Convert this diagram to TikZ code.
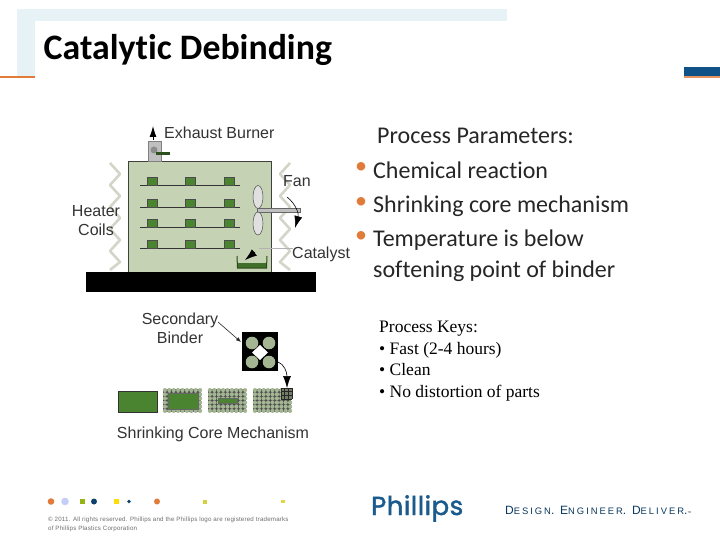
\documentclass[tikz,border=0pt]{standalone}
\usepackage{fontspec}
\setmainfont{Liberation Sans}
\newfontfamily\carl[Ligatures=NoCommon,Contextuals=NoAlternate]{Carlito}
\newfontfamily\lserif{Liberation Serif}
\newfontfamily\tagf[LetterSpace=21]{Liberation Sans}
\newfontfamily\footf[LetterSpace=3]{Liberation Sans}
\newfontfamily\logof[FakeBold=1.6,LetterSpace=2]{Poppins}
\usetikzlibrary{arrows.meta,decorations.pathmorphing}
\definecolor{hdr}{HTML}{E6F2F5}
\definecolor{orangeb}{HTML}{E07B39}
\definecolor{navy}{HTML}{0F5287}
\definecolor{logoc}{HTML}{1B5A8C}
\definecolor{chamber}{HTML}{C6D2B4}
\definecolor{leaf}{HTML}{4B8430}
\definecolor{coil}{HTML}{D2D6C8}
\definecolor{dotg}{HTML}{A3B592}
\definecolor{foot}{HTML}{6E6E6E}
\tikzset{
 lab/.style={anchor=base,font=\fontsize{16}{18}\selectfont,text=black!80,inner sep=0pt},
 rtxt/.style={anchor=base west,font=\carl\fontsize{24}{26}\selectfont,text=black!85,inner sep=0pt},
 bul/.style={anchor=base,font=\carl\fontsize{24}{26}\selectfont,text=orangeb,inner sep=0pt},
 key/.style={anchor=base west,font=\lserif\fontsize{17.5}{19}\selectfont,text=black,inner sep=0pt},
 coilline/.style={draw=coil,line width=2.6pt,line join=round},
 part/.style={fill=leaf,draw=black!70,line width=.5pt},
 shelf/.style={draw=black!80,line width=.8pt},
 tip/.style={-{Latex[length=12pt,width=8pt]},line width=.6pt,black}
}
\newcommand{\zig}[2]{\draw[coilline] (#1,163) -- ++(#2,11) -- ++(-#2,11) -- ++(#2,11) -- ++(-#2,11) -- ++(#2,11) -- ++(-#2,11) -- ++(#2,11) -- ++(-#2,11) -- ++(#2,11) -- ++(-#2,8);}
\newcommand{\dotgrid}[2]{\foreach \i in {0,...,8}{\foreach \j in {0,...,5}{\fill[dotg] (#1+2.4+\i*4.4,#2+2.1+\j*4.15) circle (2.1);}}}
\begin{document}
\begin{tikzpicture}[x=1pt,y=-1pt]
\useasboundingbox (0,0) rectangle (720,540);
\fill[white] (0,0) rectangle (720,540);
% header
\fill[hdr] (17,9) rectangle (507,21);
\fill[hdr] (17,9) rectangle (35,76);
\fill[orangeb] (0,76) rectangle (35,78);
\fill[navy] (684,67) rectangle (720,76);
\fill[orangeb!80!white] (684,76) rectangle (720,78);
\node[anchor=base west,inner sep=0pt,font=\carl\bfseries\fontsize{35.8}{38}\selectfont] (title) at (43.5,60) {Catalytic Debinding};
% furnace
\zig{110}{10}
\zig{290}{-10}
\fill[chamber] (128,161) rectangle (271,272);
\draw[black!75,line width=.8pt] (128,272) -- (128,161) -- (271,161) -- (271,272);
\fill[black] (86,272) rectangle (316,292);
\fill[black!25,draw=black!50,line width=.4pt] (148,141) rectangle (161,161);
\fill[black!45] (154,150) circle (3.5);
\fill[leaf!60!black] (156,152) rectangle (170,155);
\coordinate (exb) at (153,140); \coordinate (ext) at (153,126);
\draw[-{Latex[length=11pt,width=7pt]},line width=.8pt,black] (exb) -- (ext);
\foreach \y in {185,207,227,248}{
 \draw[shelf] (140,\y) -- (240,\y);
 \foreach \x in {147,185,224}{\fill[part] (\x,\y-8) rectangle (\x+10,\y);}
}
% fan
\fill[black!25,draw=black!60,line width=.5pt] (257,208) rectangle (300,212);
\fill[black!12,draw=black!70,line width=.5pt] (258,197) ellipse (5 and 11.5);
\fill[black!12,draw=black!70,line width=.5pt] (258,223.5) ellipse (5 and 11.5);
\coordinate (fa) at (287,197); \coordinate (fb) at (295,228);
\draw[tip] (fa) .. controls (296,204) and (299,214) .. (fb);
% catalyst
\coordinate (ca) at (259,248); \coordinate (cb) at (293,248);
\draw[black!30,line width=1pt] (ca) -- (cb);
\fill[leaf!85!black] (238,263) rectangle (266,268);
\draw[leaf!55!black,line width=1pt] (237,256) -- (237.5,268) -- (266.5,268) -- (267,256);
\coordinate (ta) at (255,252); \coordinate (tb) at (245,260);
\draw[tip] (ta) -- (tb);
% labels
\node[lab,anchor=base west] (l1) at (164,138.5) {Exhaust Burner};
\node[lab,anchor=base west] (l2) at (283,186.5) {Fan};
\node[lab] (l3) at (96,216.5) {Heater};
\node[lab] (l4) at (96,235.5) {Coils};
\node[lab,anchor=base west] (l5) at (292,258.5) {Catalyst};
\node[lab] (l6) at (180,324.5) {Secondary};
\node[lab] (l7) at (180,343.5) {Binder};
\node[lab] (l8) at (213,438.5) {Shrinking Core Mechanism};
% secondary binder
\fill[black] (242,332) rectangle (278,371);
\fill[white] (260,345) -- (268,352.5) -- (260,360) -- (252,352.5) -- cycle;
\foreach \x in {252,269}{\foreach \y in {343,362}{\fill[dotg] (\x,\y) circle (6.3);}}
\coordinate (sa) at (218,322); \coordinate (sb) at (241,342);
\draw[-{Latex[length=5pt,width=4pt]},line width=.6pt,black!85] (sa) -- (sb);
\coordinate (da) at (278,362); \coordinate (db) at (287,388);
\draw[tip] (da) .. controls (284,364) and (287,372) .. (db);
% shrinking core blocks
\fill[leaf,draw=black!80,line width=.6pt] (118,391) rectangle (157,412);
\fill[black!70] (163,389) rectangle (201,412);
\dotgrid{162.5}{388}
\fill[leaf,draw=black!60,line width=.4pt] (168,393) rectangle (198,409);
\fill[black!70] (208,389) rectangle (246,412);
\dotgrid{207.5}{388}
\fill[leaf,draw=black!60,line width=.4pt] (218,398) rectangle (237,403);
\fill[black!70] (253,389) rectangle (291,412);
\dotgrid{252.5}{388}
\fill[dotg!70!black] (281,388) rectangle (292,399);
\foreach \t in {0,3.67,7.33,11}{
 \draw[black!85,line width=.6pt] (281+\t,388) -- (281+\t,399);
 \draw[black!85,line width=.6pt] (281,388+\t) -- (292,388+\t);
}
% right text
\node[rtxt] (p0) at (377,144) {Process Parameters:};
\node[bul] (b1) at (361,174) {•};
\node[rtxt] (p1) at (373,179) {Chemical reaction};
\node[bul] (b2) at (361,208) {•};
\node[rtxt] (p2) at (373,213) {Shrinking core mechanism};
\node[bul] (b3) at (361,242) {•};
\node[rtxt] (p3) at (373,247) {Temperature is below};
\node[rtxt] (p4) at (373,277) {softening point of binder};
\node[key] (k0) at (379,332.5) {Process Keys:};
\node[key] (k1) at (379,354.5) {• Fast (2-4 hours)};
\node[key] (k2) at (379,375.5) {• Clean};
\node[key] (k3) at (379,397.5) {• No distortion of parts};
% footer
\fill[orangeb] (51,501.5) circle (3.3);
\fill[blue!15!hdr] (65,501.5) circle (3.8);
\fill[olive!60!green!70!yellow] (79.5,499) rectangle (84.5,504);
\fill[navy!80!black] (94,501.5) circle (3);
\fill[yellow!80!orange] (113.5,499) rectangle (118.5,504);
\fill[navy!80!black] (129,501.5) circle (1.8);
\fill[orangeb] (157,501.5) circle (3);
\fill[olive!50!yellow!70!white] (203,499.5) rectangle (207,503.5);
\fill[olive!40!yellow!70!white] (281,500) rectangle (285,503);
\node[anchor=base west,inner sep=0pt,text=foot,font=\footf\fontsize{6.2}{6}\selectfont] (c1) at (48,521.5) {© 2011. All rights reserved. Phillips and the Phillips logo are registered trademarks};
\node[anchor=base west,inner sep=0pt,text=foot,font=\footf\fontsize{6.2}{6}\selectfont] (c2) at (48,530.5) {of Phillips Plastics Corporation};
\node[anchor=base west,inner sep=0pt,text=logoc,font=\logof\fontsize{26}{28}\selectfont] (logo) at (371,515) {Phillips};
\node[anchor=base west,inner sep=0pt,text=navy!70!black,font=\tagf\fontsize{12}{14}\selectfont] (tag) at (505,514) {D{\fontsize{9.4}{10}\selectfont ESIGN}. E{\fontsize{9.4}{10}\selectfont NGINEER}. D{\fontsize{9.4}{10}\selectfont ELIVER}.{\fontsize{4}{4}\selectfont ™}};
\end{tikzpicture}
\end{document}
